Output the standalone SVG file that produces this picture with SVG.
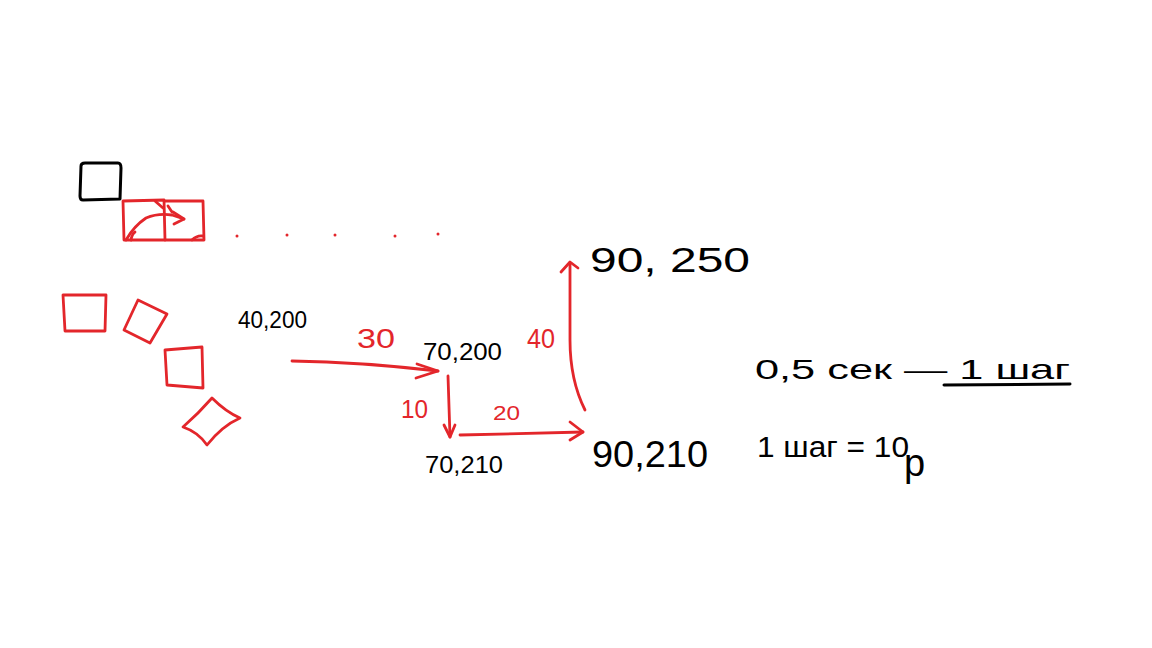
<svg xmlns="http://www.w3.org/2000/svg" width="1152" height="648" viewBox="0 0 1152 648">
<style>
.r{fill:none;stroke:#e3262b;stroke-width:2.8;stroke-linecap:round;stroke-linejoin:round}
.k{fill:none;stroke:#000;stroke-width:3;stroke-linecap:round;stroke-linejoin:round}
.kt{font-family:"Liberation Sans",Arial,sans-serif;fill:#000}
.rt{font-family:"Liberation Sans",Arial,sans-serif;fill:#e3262b}
</style>
<rect width="1152" height="648" fill="#fff"/>
<g id="black-square">
<path class="k" d="M81,166 Q81,163 85,163 L118,163 Q121,163 121,168 L120,199 L83,200 Q80,200 80,196 Z"/>
</g>
<g id="moving-squares">
<path class="r" d="M123,201 L164,200 L165,240 L124,240 Z"/>
<path class="r" d="M165,201 L203,201 L204,240 L165,240"/>
<path class="r" d="M126,240 Q134,226 146,218 Q158,213 172,215 L184,219"/>
<path class="r" d="M173,212 L184,219 L174,224"/>
<path class="r" d="M155,201 L163,208 M168,206 L172,212"/>
<path class="r" d="M131,240 Q132,234 135,232 M192,240 Q197,235 203,236"/>
<g fill="#e3262b">
<circle cx="237" cy="236" r="1.5"/><circle cx="287" cy="235" r="1.5"/><circle cx="335" cy="235" r="1.5"/><circle cx="395" cy="236" r="1.5"/><circle cx="438" cy="234" r="1.5"/>
</g>
</g>
<g id="rotating-squares">
<path class="r" d="M63,295 L106,295 L105,331 L65,331 Z"/>
<path class="r" d="M138,300 L167,314 L150,343 L124,330 Z"/>
<path class="r" d="M165,350 L202,347 L203,388 L167,385 Z"/>
<path class="r" d="M212,398 Q226,412 240,418 Q222,426 207,445 Q198,432 183,427 Q198,414 212,398 Z"/>
</g>
<g id="p1"><text class="kt" x="238" y="328" font-size="24" textLength="69" lengthAdjust="spacingAndGlyphs">40,200</text></g>
<g id="p2"><text class="kt" x="423" y="360" font-size="23" textLength="79" lengthAdjust="spacingAndGlyphs">70,200</text></g>
<g id="p3"><text class="kt" x="425" y="473" font-size="24" textLength="78" lengthAdjust="spacingAndGlyphs">70,210</text></g>
<g id="p4"><text class="kt" x="592" y="467" font-size="36" textLength="116" lengthAdjust="spacingAndGlyphs">90,210</text></g>
<g id="p5"><text class="kt" x="590" y="272" font-size="35" textLength="160" lengthAdjust="spacingAndGlyphs">90, 250</text></g>
<g id="connectors">
<path class="r" d="M292,361 Q360,362 438,371"/>
<path class="r" d="M417,364 L438,371 L416,378"/>
<path class="r" d="M448,376 L450,437"/>
<path class="r" d="M444,425 L450,437 L455,425"/>
<path class="r" d="M460,435 L583,432"/>
<path class="r" d="M570,422 L583,432 L570,440"/>
<path class="r" d="M585,410 Q570,380 570,340 L570,263"/>
<path class="r" d="M561,272 L570,262 L578,268"/>
<text class="rt" x="357" y="348" font-size="28" textLength="38" lengthAdjust="spacingAndGlyphs">30</text>
<text class="rt" x="401" y="418" font-size="25" textLength="27" lengthAdjust="spacingAndGlyphs">10</text>
<text class="rt" x="493" y="420" font-size="20" textLength="27" lengthAdjust="spacingAndGlyphs">20</text>
<text class="rt" x="527" y="348" font-size="27" textLength="28" lengthAdjust="spacingAndGlyphs">40</text>
</g>
<g id="note">
<text class="kt" x="755" y="379" font-size="28" textLength="315" lengthAdjust="spacingAndGlyphs">0,5 сек — 1 шаг</text>
<path class="k" d="M944,385 L1070,384"/>
<text class="kt" x="757" y="457" font-size="30" textLength="152" lengthAdjust="spacingAndGlyphs">1 шаг = 10</text>
<text class="kt" x="904" y="476" font-size="38">р</text>
</g>
</svg>
